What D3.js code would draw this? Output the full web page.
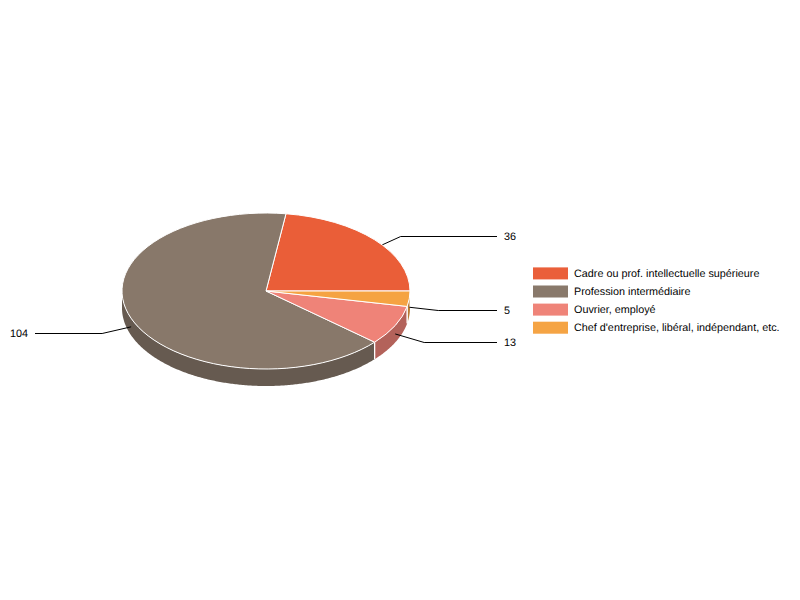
<!DOCTYPE html>
<html>
<head>
<meta charset="utf-8">
<script src="https://cdn.jsdelivr.net/npm/d3@7"></script>
<style>
  html, body { margin: 0; padding: 0; background: #fff; }
  svg { display: block; }
  text { font-family: "Liberation Sans", Arial, sans-serif; font-size: 10.8px; fill: #000; text-rendering: geometricPrecision; }
  .labels { opacity: 0.99; }
</style>
</head>
<body>
<script>
var categories = ["Cadre ou prof. intellectuelle supérieure", "Profession intermédiaire", "Ouvrier, employé", "Chef d'entreprise, libéral, indépendant, etc."];
var values = [36, 104, 13, 5];
var colors = ["#ea5e38", "#88786a", "#ef8378", "#f5a342"];

var w = 800, h = 600;
var cx = 266, cy = 291, rx = 144, ry = 78, depth = 17;
var wallShade = 0.75;

// where each leader line ends up
var labelY = [236, 333, 342, 310];
var elbowDx = [26, 29, 29, 29];

var svg = d3.select("body").append("svg").attr("width", w).attr("height", h);

// pie runs counter clockwise from 3 o'clock
var pie = d3.pie().sort(null).startAngle(Math.PI / 2).endAngle(Math.PI / 2 - 2 * Math.PI);
var slices = pie(values).map(function (d, i) {
	d.i = i;
	d.mid = (d.startAngle + d.endAngle) / 2;
	return d;
});

function px(a) { return cx + rx * Math.sin(a); }
function py(a) { return cy - ry * Math.cos(a); }

function shade(c) {
	var r = d3.rgb(c);
	return d3.rgb(r.r * wallShade, r.g * wallShade, r.b * wallShade).formatHex();
}

// only the front half of the side is visible, 90 to 270 degrees
var frontA = Math.PI / 2, frontB = 3 * Math.PI / 2;
var walls = svg.append("g");
var edges = [];
slices.forEach(function (d) {
	var a0 = Math.max(Math.min(d.startAngle, d.endAngle) + 2 * Math.PI, frontA);
	var a1 = Math.min(Math.max(d.startAngle, d.endAngle) + 2 * Math.PI, frontB);
	if (a1 <= a0) return;
	var steps = d3.range(a0, a1, 0.01).concat([a1]);
	var area = d3.area()
		.x(function (a) { return px(a); })
		.y0(function (a) { return py(a); })
		.y1(function (a) { return py(a) + depth; });
	walls.append("path")
		.attr("d", area(steps))
		.attr("fill", shade(colors[d.i]));
	edges.push(a0);
	if (a1 < frontB) edges.push(a1);
});

walls.selectAll("line")
	.data(edges)
	.enter()
	.append("line")
	.attr("x1", px)
	.attr("x2", px)
	.attr("y1", py)
	.attr("y2", function (a) { return py(a) + depth; })
	.attr("stroke", "#fff")
	.attr("stroke-width", 1);

// leader lines go under the top of the pie
var leader = d3.line();
svg.append("g").selectAll("path")
	.data(slices)
	.enter()
	.append("path")
	.attr("fill", "none")
	.attr("stroke", "#000")
	.attr("stroke-width", 1)
	.attr("d", function (d) {
		var x0 = px(d.mid), y0 = py(d.mid) + depth / 2;
		var right = x0 > cx;
		var dir = right ? 1 : -1;
		var end = right ? 497 : 35;
		return leader([[x0, y0], [x0 + dir * elbowDx[d.i], labelY[d.i] + 0.5], [end, labelY[d.i] + 0.5]]);
	});

svg.append("g").attr("class", "labels").selectAll("text")
	.data(slices)
	.enter()
	.append("text")
	.attr("x", function (d) { return px(d.mid) > cx ? 504 : 28; })
	.attr("y", function (d) { return labelY[d.i] + 4; })
	.attr("text-anchor", function (d) { return px(d.mid) > cx ? "start" : "end"; })
	.text(function (d) { return d.value; });

// top of the pie: circle squashed to an ellipse
var arc = d3.arc().innerRadius(0).outerRadius(rx);
svg.append("g")
	.attr("transform", "translate(" + cx + "," + cy + ") scale(1," + (ry / rx) + ")")
	.selectAll("path")
	.data(slices)
	.enter()
	.append("path")
	.attr("d", arc)
	.attr("fill", function (d) { return colors[d.i]; })
	.attr("stroke", "#fff")
	.attr("stroke-width", 1)
	.attr("vector-effect", "non-scaling-stroke");

// legend
var legendY = d3.scalePoint().domain(categories).range([273.4, 327.7]);
var legend = svg.append("g").attr("class", "labels").selectAll("g")
	.data(categories)
	.enter()
	.append("g")
	.attr("transform", function (d) { return "translate(533," + legendY(d) + ")"; });

legend.append("rect")
	.attr("x", 0)
	.attr("y", -6)
	.attr("width", 35)
	.attr("height", 12)
	.attr("fill", function (d, i) { return colors[i]; });

legend.append("text")
	.attr("x", 41)
	.attr("y", 3.6)
	.text(function (d) { return d; });
</script>
</body>
</html>
